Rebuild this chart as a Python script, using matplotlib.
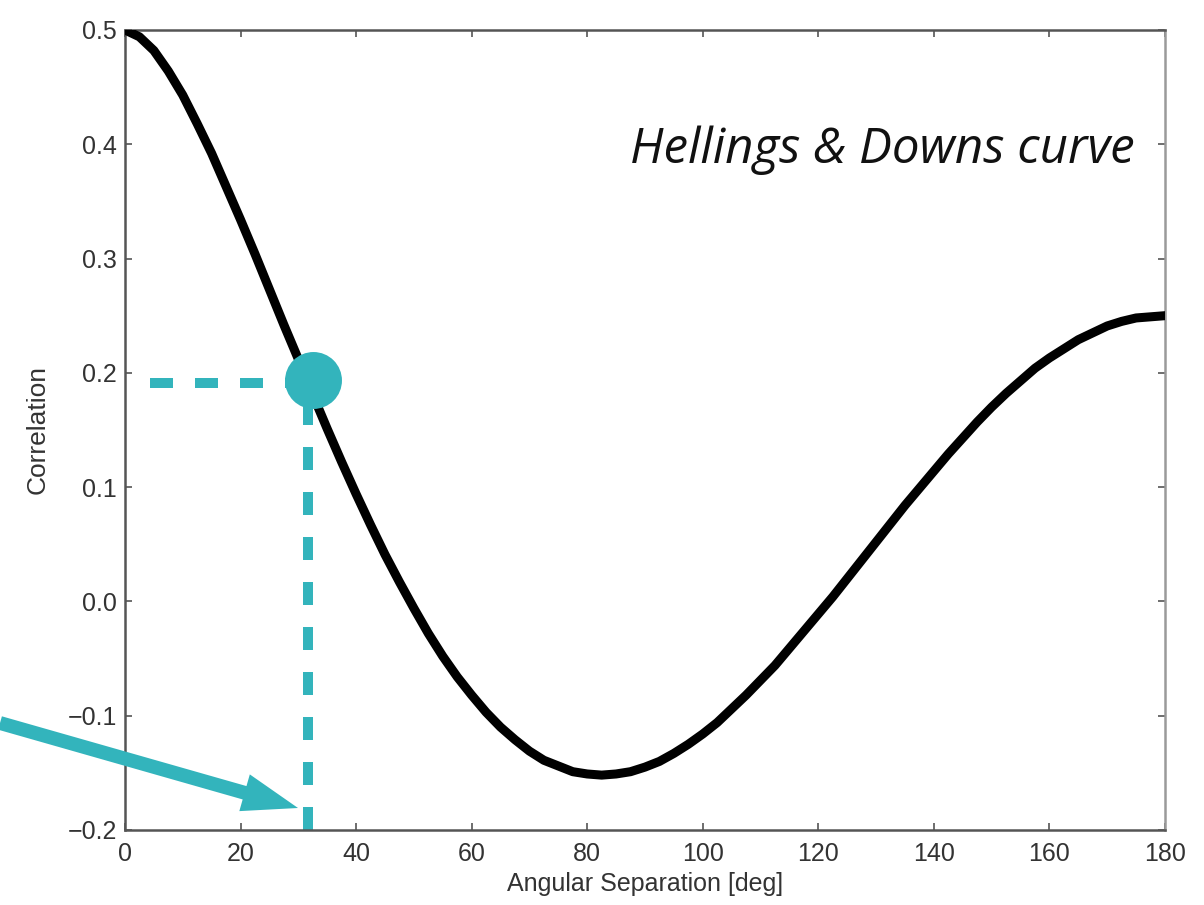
import matplotlib
matplotlib.use("Agg")
import matplotlib.pyplot as plt

# Hellings & Downs correlation versus pulsar angular separation
angle_deg = [0, 2.5, 5, 7.5, 10, 12.5, 15, 17.5, 20, 22.5, 25, 27.5, 30, 32.5, 35, 37.5,
             40, 42.5, 45, 47.5, 50, 52.5, 55, 57.5, 60, 62.5, 65, 67.5, 70, 72.5, 75,
             77.5, 80, 82.5, 85, 87.5, 90, 92.5, 95, 97.5, 100, 102.5, 105, 107.5, 110,
             112.5, 115, 117.5, 120, 122.5, 125, 127.5, 130, 132.5, 135, 137.5, 140,
             142.5, 145, 147.5, 150, 152.5, 155, 157.5, 160, 162.5, 165, 167.5, 170,
             172.5, 175, 177.5, 180]
correlation = [0.500, 0.494, 0.482, 0.464, 0.443, 0.418, 0.392, 0.363, 0.334, 0.304,
               0.273, 0.242, 0.212, 0.181, 0.151, 0.122, 0.094, 0.067, 0.041, 0.017,
               -0.006, -0.028, -0.048, -0.066, -0.082, -0.097, -0.110, -0.121, -0.131,
               -0.139, -0.144, -0.149, -0.151, -0.152, -0.151, -0.149, -0.145, -0.140,
               -0.133, -0.125, -0.116, -0.106, -0.094, -0.082, -0.069, -0.056, -0.041,
               -0.026, -0.011, 0.004, 0.020, 0.036, 0.052, 0.068, 0.084, 0.099, 0.114,
               0.129, 0.143, 0.157, 0.170, 0.182, 0.193, 0.204, 0.213, 0.221, 0.229,
               0.235, 0.241, 0.245, 0.248, 0.249, 0.250]

# Highlighted pulsar pair
pair_angle = 32.5
pair_corr = 0.194
guide_x = 31.7
guide_y = 0.191
guide_x_start = 4.3

x_ticks = [0, 20, 40, 60, 80, 100, 120, 140, 160, 180]
y_ticks = [-0.2, -0.1, 0.0, 0.1, 0.2, 0.3, 0.4, 0.5]
y_tick_labels = ["\u22120.2", "\u22120.1", "0.0", "0.1", "0.2", "0.3", "0.4", "0.5"]

teal = "#33b4bc"
spine_col = "#555555"

fig = plt.figure(figsize=(12.04, 9.05), dpi=100)
ax = fig.add_axes([0.1038, 0.0829, 0.8638, 0.8840])

ax.plot(angle_deg, correlation, color="black", lw=6.5, solid_capstyle="round",
        solid_joinstyle="round", zorder=3)

# dashed guides to the axes
ax.plot([guide_x_start, pair_angle], [guide_y, guide_y], color=teal, lw=7.2,
        dashes=(2.3, 2.2), dash_capstyle="butt", zorder=2, clip_on=False)
ax.plot([guide_x, guide_x], [-0.2, guide_y], color=teal, lw=7.2,
        dashes=(2.3, 2.2), dash_capstyle="butt", zorder=2, clip_on=False)

ax.plot([pair_angle], [pair_corr], marker="o", markersize=41, color=teal,
        markeredgewidth=0, zorder=4)

ax.set_xlim(0, 180)
ax.set_ylim(-0.2, 0.5)
ax.set_xticks(x_ticks)
ax.set_yticks(y_ticks)
ax.set_yticklabels(y_tick_labels)

for s in ax.spines.values():
    s.set_color(spine_col)
    s.set_linewidth(1.8)
ax.spines["right"].set_color("#9a9a9a")

ax.tick_params(direction="in", length=5, width=1.2, color=spine_col,
               top=True, right=True, labelsize=18, labelcolor="#333333")
ax.tick_params(axis="x", pad=9)
ax.tick_params(axis="y", pad=6)
for lab in ax.get_xticklabels() + ax.get_yticklabels():
    lab.set_family("Liberation Sans")

ax.set_xlabel("Angular Separation [deg]", fontsize=18, family="Liberation Sans",
              color="#333333", labelpad=4)
ax.set_ylabel("Correlation", fontsize=19, family="Liberation Sans",
              color="#333333", labelpad=13)

ax.text(0.971, 0.834, "Hellings & Downs curve", transform=ax.transAxes,
        ha="right", va="baseline", fontsize=35.5, style="italic",
        family="Open Sans", color="#111111")

# pointer arrow coming in from the left edge
ax.annotate("", xy=(298, 97), xycoords="figure pixels",
            xytext=(0, 182), textcoords="figure pixels",
            arrowprops=dict(arrowstyle="simple,head_length=0.8,head_width=0.55,tail_width=0.2",
                            mutation_scale=50, color=teal, lw=0,
                            shrinkA=0, shrinkB=0),
            annotation_clip=False, zorder=5)

fig.savefig("out.png", dpi=100)
